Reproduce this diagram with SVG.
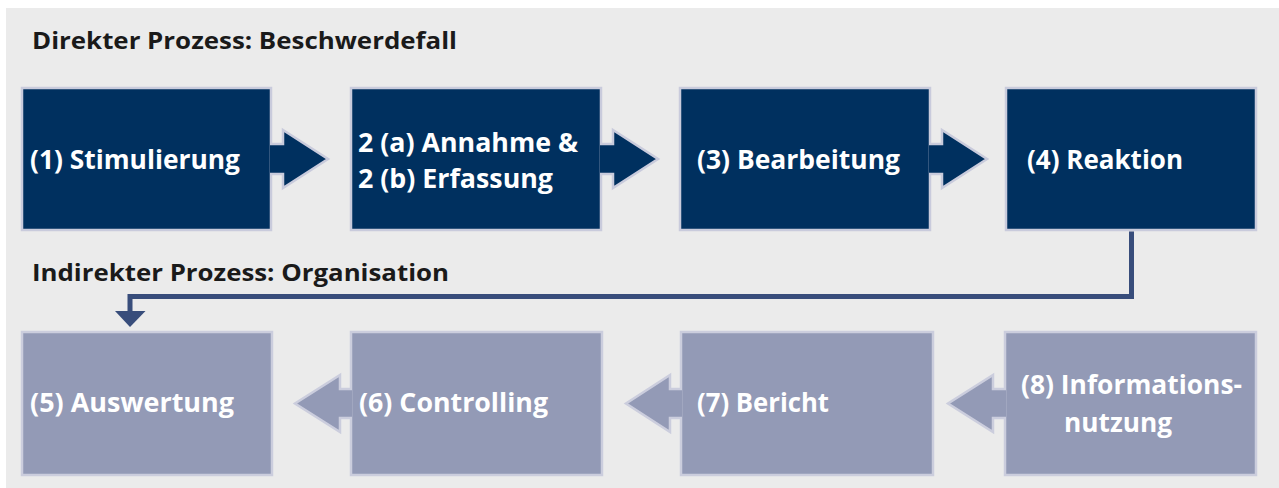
<svg xmlns="http://www.w3.org/2000/svg" width="1279" height="488" viewBox="0 0 1279 488">
  <style>
    .panel { fill: #ebebeb; }
    .title { font-family: "Open Sans", "Noto Sans", "DejaVu Sans", sans-serif; font-weight: 700; font-size: 23px; fill: #1a1a1a; }
    .label { font-family: "Open Sans", "Noto Sans", "DejaVu Sans", sans-serif; font-weight: 700; font-size: 27px; fill: #ffffff; }
    .dark { fill: #00305f; stroke: #c9cbdc; stroke-width: 2.5; }
    .light { fill: #939ab6; stroke: #cbcddd; stroke-width: 2.5; }
    .link { fill: none; stroke: #384d7b; stroke-width: 5; }
    .linkhead { fill: #384d7b; }
  </style>
  <rect width="1279" height="488" fill="#ffffff"/>
  <rect class="panel" x="6" y="8" width="1273" height="480"/>
  <text class="title" x="32" y="49" textLength="425" lengthAdjust="spacingAndGlyphs">Direkter Prozess: Beschwerdefall</text>
  <text class="title" x="32" y="281" textLength="417" lengthAdjust="spacingAndGlyphs">Indirekter Prozess: Organisation</text>

  <g id="node1">
    <rect class="dark" x="22" y="88" width="249" height="142"/>
    <text class="label" x="30" y="169" textLength="210" lengthAdjust="spacingAndGlyphs">(1) Stimulierung</text>
  </g>
  <g id="node2">
    <rect class="dark" x="351" y="88" width="250" height="142"/>
    <text class="label" x="358" y="152" textLength="220" lengthAdjust="spacingAndGlyphs">2 (a) Annahme &amp;</text>
    <text class="label" x="358" y="188" textLength="195" lengthAdjust="spacingAndGlyphs">2 (b) Erfassung</text>
  </g>
  <g id="node3">
    <rect class="dark" x="680" y="88" width="250" height="142"/>
    <text class="label" x="697" y="169" textLength="203" lengthAdjust="spacingAndGlyphs">(3) Bearbeitung</text>
  </g>
  <g id="node4">
    <rect class="dark" x="1006" y="88" width="250" height="142"/>
    <text class="label" x="1027" y="169" textLength="156" lengthAdjust="spacingAndGlyphs">(4) Reaktion</text>
  </g>
  <g id="node5">
    <rect class="light" x="22" y="332" width="250" height="143"/>
    <text class="label" x="30" y="412" textLength="204" lengthAdjust="spacingAndGlyphs">(5) Auswertung</text>
  </g>
  <g id="node6">
    <rect class="light" x="351" y="332" width="251" height="143"/>
    <text class="label" x="359" y="412" textLength="189" lengthAdjust="spacingAndGlyphs">(6) Controlling</text>
  </g>
  <g id="node7">
    <rect class="light" x="681" y="332" width="252" height="143"/>
    <text class="label" x="697" y="412" textLength="132" lengthAdjust="spacingAndGlyphs">(7) Bericht</text>
  </g>
  <g id="node8">
    <rect class="light" x="1005" y="332" width="251" height="143"/>
    <text class="label" x="1021" y="394" textLength="221" lengthAdjust="spacingAndGlyphs">(8) Informations-</text>
    <text class="label" x="1064" y="432" textLength="108" lengthAdjust="spacingAndGlyphs">nutzung</text>
  </g>

  <g id="connectors">
    <path class="dark" d="M270,144 H283 V130 L328,159 L283,188 V174 H270"/>
    <path class="dark" d="M600,144 H613 V130 L658,159 L613,188 V174 H600"/>
    <path class="dark" d="M929,144 H942 V130 L987,159 L942,188 V174 H929"/>
    <path class="light" d="M352,389 H340 V375 L295,403.5 L340,432 V418 H352"/>
    <path class="light" d="M682,389 H670 V375 L626,403.5 L670,432 V418 H682"/>
    <path class="light" d="M1006,389 H993 V375 L948,403.5 L993,432 V418 H1006"/>
    <path class="link" d="M1131.5,231.5 V296.5 H130 V312"/>
    <polygon class="linkhead" points="115,311 145.5,311 130,327"/>
  </g>
</svg>
